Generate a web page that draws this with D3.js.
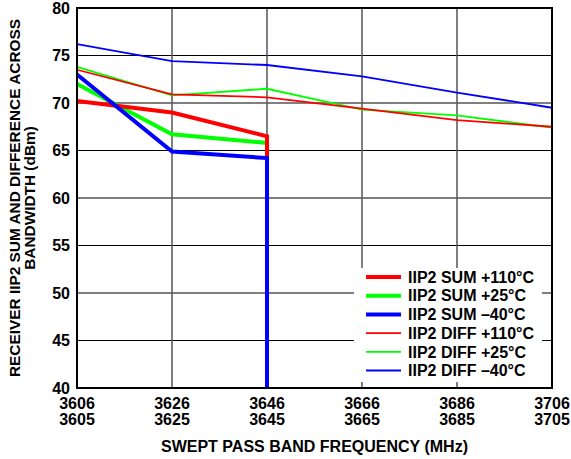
<!DOCTYPE html>
<html>
<head>
<meta charset="utf-8">
<script src="https://cdn.jsdelivr.net/npm/d3@7"></script>
<style>
  html, body { margin: 0; padding: 0; background: #fff; }
  svg { display: block; font-family: "Liberation Sans", Arial, Helvetica, sans-serif; font-weight: bold; }
</style>
</head>
<body>
<svg id="chart" width="571" height="459"></svg>
<script>
// ---- data ----
const freqTop = [3606, 3626, 3646, 3666, 3686, 3706];
const freqBottom = [3605, 3625, 3645, 3665, 3685, 3705];
const yTicks = [40, 45, 50, 55, 60, 65, 70, 75, 80];

// SUM curves: measured at 3606, 3626, 3646 then fall off the bottom of the scale at 3646
const sumFreq = [3606, 3626, 3646, 3646];
const sum110 = [70.2, 69.0, 66.5, 40];
const sum25 = [72.0, 66.7, 65.8, 40];
const sumM40 = [73.0, 64.9, 64.2, 40];

// DIFF curves
const diffFreq = [3606, 3626, 3646, 3666, 3686, 3706];
const diff110 = [73.5, 70.9, 70.6, 69.4, 68.2, 67.5];
const diff25 = [73.8, 70.8, 71.5, 69.3, 68.7, 67.4];
const diffM40 = [76.2, 74.4, 74.0, 72.8, 71.1, 69.5];

const seriesNames = ["IIP2 SUM +110°C", "IIP2 SUM +25°C", "IIP2 SUM \u201340°C",
                     "IIP2 DIFF +110°C", "IIP2 DIFF +25°C", "IIP2 DIFF \u201340°C"];
const seriesColors = ["#ff0000", "#00ff00", "#0000ff", "#ff0000", "#00ff00", "#0000ff"];

// ---- layout ----
const svg = d3.select("#chart");
const m = { left: 77, right: 552, top: 8, bottom: 388 };
const x = d3.scaleLinear().domain([3606, 3706]).range([m.left, m.right]);
const y = d3.scaleLinear().domain([40, 80]).range([m.bottom, m.top]);
const FS = 16;

// grid
const grid = svg.append("g");
grid.selectAll("line.h").data(yTicks.slice(1, -1)).enter().append("line")
  .attr("x1", m.left).attr("x2", m.right)
  .attr("y1", d => y(d)).attr("y2", d => y(d))
  .attr("stroke", "#000").attr("stroke-width", 1.2);
grid.selectAll("line.v").data(freqTop.slice(1, -1)).enter().append("line")
  .attr("x1", d => x(d)).attr("x2", d => x(d))
  .attr("y1", m.top).attr("y2", m.bottom)
  .attr("stroke", "#555").attr("stroke-width", 1.5);

// series
const line = d3.line().x(d => x(d[0])).y(d => y(d[1]));
const mk = (fs, vs) => fs.map((f, i) => [f, vs[i]]);
const drawn = [
  { data: mk(diffFreq, diffM40), color: seriesColors[5], w: 1.8 },
  { data: mk(diffFreq, diff25), color: seriesColors[4], w: 1.8 },
  { data: mk(diffFreq, diff110), color: seriesColors[3], w: 1.8 },
  { data: mk(sumFreq, sum25), color: seriesColors[1], w: 4 },
  { data: mk(sumFreq, sum110), color: seriesColors[0], w: 4 },
  { data: mk(sumFreq, sumM40), color: seriesColors[2], w: 4 },
];
svg.append("g").selectAll("path").data(drawn).enter().append("path")
  .attr("d", d => line(d.data))
  .attr("fill", "none")
  .attr("stroke", d => d.color)
  .attr("stroke-width", d => d.w)
  .attr("stroke-linejoin", "miter");

// legend
const lg = svg.append("g");
lg.append("rect").attr("x", 354).attr("y", 268).attr("width", 188).attr("height", 114).attr("fill", "#fff");
seriesNames.forEach((name, i) => {
  const yy = 277 + i * 18.7;
  lg.append("line").attr("x1", 366).attr("x2", 401).attr("y1", yy).attr("y2", yy)
    .attr("stroke", seriesColors[i]).attr("stroke-width", i < 3 ? 4 : 1.8);
  lg.append("text").attr("x", 408).attr("y", yy).attr("dy", "0.36em")
    .attr("font-size", FS).text(name);
});

// frame
svg.append("rect").attr("x", m.left).attr("y", m.top)
  .attr("width", m.right - m.left).attr("height", m.bottom - m.top)
  .attr("fill", "none").attr("stroke", "#000").attr("stroke-width", 2);

// y axis labels
const yAxis = d3.axisLeft(y).tickValues(yTicks).tickSize(0).tickPadding(7);
const ya = svg.append("g").attr("transform", `translate(${m.left},0)`).call(yAxis);
ya.select(".domain").remove();
ya.selectAll("text").attr("font-size", FS).attr("font-family", null).attr("fill", "#000");

// x axis labels (two rows)
const xa = svg.append("g");
xa.selectAll("text.t").data(freqTop).enter().append("text")
  .attr("x", d => x(d)).attr("y", 409).attr("text-anchor", "middle")
  .attr("font-size", FS).text(d => d);
xa.selectAll("text.b").data(freqBottom).enter().append("text")
  .attr("x", (d, i) => x(freqTop[i])).attr("y", 425).attr("text-anchor", "middle")
  .attr("font-size", FS).text(d => d);

// titles
svg.append("text").attr("x", (m.left + m.right) / 2).attr("y", 452)
  .attr("text-anchor", "middle").attr("font-size", FS)
  .text("SWEPT PASS BAND FREQUENCY (MHz)");
const yt = svg.append("text").attr("transform", `translate(20,${(m.top + m.bottom) / 2}) rotate(-90)`)
  .attr("text-anchor", "middle").attr("font-size", 15.4);
yt.append("tspan").attr("x", 0).attr("y", 0).text("RECEIVER IIP2 SUM AND DIFFERENCE ACROSS");
yt.append("tspan").attr("x", 0).attr("y", 15).text("BANDWIDTH (dBm)");
</script>
</body>
</html>
